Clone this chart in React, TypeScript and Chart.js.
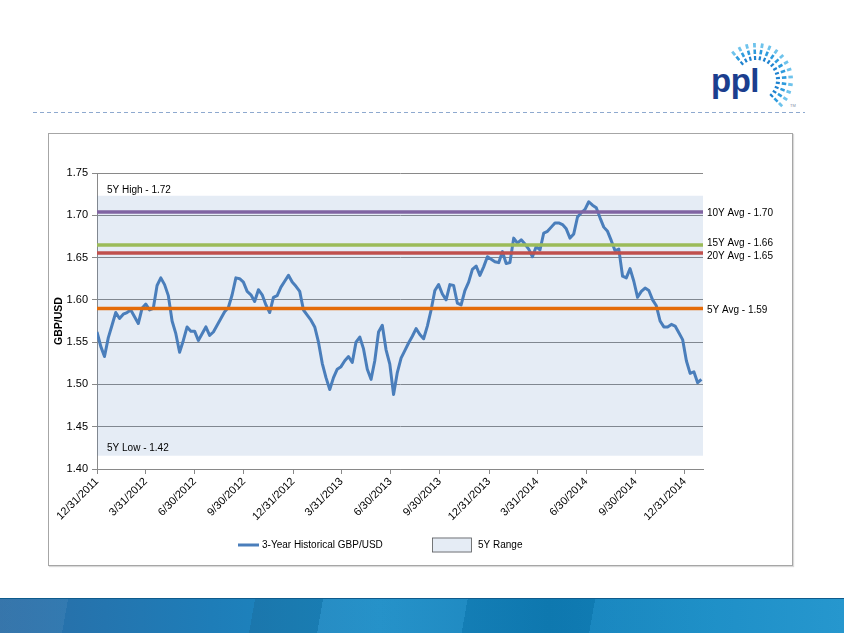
import React, { useEffect, useRef } from "react";
import { Chart, registerables } from "chart.js";

Chart.register(...registerables);

// ---------- DATA ----------
// Weekly GBP/USD readings starting 12/31/2011 (day 0), one every 7 days
const WEEK_STEP_DAYS = 7;
const gbpUsdWeekly = [
  1.562, 1.545, 1.533, 1.555, 1.570, 1.585, 1.578, 1.583, 1.585, 1.588,
  1.580, 1.572, 1.590, 1.595, 1.588, 1.590, 1.617, 1.626, 1.618, 1.605,
  1.575, 1.560, 1.538, 1.552, 1.568, 1.563, 1.563, 1.552, 1.560, 1.568,
  1.558, 1.562, 1.570, 1.578, 1.586, 1.591, 1.606, 1.626, 1.625, 1.621,
  1.610, 1.606, 1.598, 1.612, 1.606, 1.594, 1.585, 1.603, 1.605, 1.615,
  1.622, 1.629, 1.621, 1.616, 1.610, 1.588, 1.582, 1.576, 1.568, 1.550,
  1.525, 1.508, 1.494, 1.508, 1.518, 1.521, 1.528, 1.533, 1.526, 1.550,
  1.556, 1.542, 1.518, 1.506, 1.528, 1.562, 1.570, 1.541, 1.524, 1.488,
  1.514, 1.531, 1.540, 1.549, 1.557, 1.566, 1.559, 1.554, 1.569, 1.588,
  1.611, 1.618, 1.607, 1.600, 1.618, 1.617, 1.596, 1.594, 1.611, 1.621,
  1.636, 1.640, 1.629, 1.639, 1.651, 1.648, 1.645, 1.644, 1.657, 1.643,
  1.644, 1.673, 1.667, 1.671, 1.666, 1.660, 1.651, 1.663, 1.659, 1.679,
  1.681, 1.686, 1.691, 1.691, 1.689, 1.684, 1.673, 1.678, 1.698, 1.703,
  1.707, 1.716, 1.712, 1.709, 1.697, 1.686, 1.681, 1.670, 1.658, 1.660,
  1.628, 1.626, 1.637, 1.622, 1.603, 1.610, 1.614, 1.611, 1.600, 1.593,
  1.575, 1.568, 1.568, 1.571, 1.569, 1.561, 1.553, 1.528, 1.513, 1.515,
  1.502, 1.506,
];

// Quarter-end dates as day offsets from 12/31/2011
const quarterTickDays = [0, 91, 182, 274, 366, 456, 547, 639, 731, 821, 912, 1004, 1096];
const quarterTickLabels = [
  "12/31/2011", "3/31/2012", "6/30/2012", "9/30/2012", "12/31/2012",
  "3/31/2013", "6/30/2013", "9/30/2013", "12/31/2013",
  "3/31/2014", "6/30/2014", "9/30/2014", "12/31/2014",
];
const xDomainDays = [0, 1130];

const yTickValues = [1.4, 1.45, 1.5, 1.55, 1.6, 1.65, 1.7, 1.75];

// 5-year range band [low, high]
const fiveYearRange = [1.4157, 1.7231];
const fiveYearRangeLabels = ["5Y Low - 1.42", "5Y High - 1.72"];

// Long-run averages
const avgValues = [1.7038, 1.6648, 1.6553, 1.5897];
const avgLabels = ["10Y Avg - 1.70", "15Y Avg - 1.66", "20Y Avg - 1.65", "5Y Avg - 1.59"];

const seriesLabel = "3-Year Historical GBP/USD";
const rangeLabel = "5Y Range";

// ---------- STYLE ----------
const FONT = "'Liberation Sans', Arial, sans-serif";
const avgColors = ["#8064A2", "#9BBB59", "#C0504D", "#E46C0A"];
const avgLabelOffsets = [1.5, -1.5, 3.5, 1.5];
const BLUE = "#4A7EBB";
const BAND = "rgba(79,129,189,0.15)";
const BAND_SOLID = "#E5ECF5";
const GRID = "#898989";

const annotationPlugin = {
  id: "annotations",
  afterDatasetsDraw(chart: any) {
    const { ctx, chartArea, scales } = chart;
    const y = scales.y;
    ctx.save();
    ctx.font = `10px ${FONT}`;
    ctx.fillStyle = "#000";
    ctx.textBaseline = "middle";
    ctx.textAlign = "left";
    avgValues.forEach((v, i) => {
      ctx.fillText(avgLabels[i], chartArea.right + 4, y.getPixelForValue(v) + avgLabelOffsets[i]);
    });
    const hiY = y.getPixelForValue(fiveYearRange[1]);
    const loY = y.getPixelForValue(fiveYearRange[0]);
    ctx.fillText(fiveYearRangeLabels[1], chartArea.left + 10, hiY - 5);
    ctx.fillText(fiveYearRangeLabels[0], chartArea.left + 10, loY - 7);
    ctx.restore();
  },
};

const legendPlugin = {
  id: "customLegend",
  afterDraw(chart: any) {
    const { ctx, chartArea } = chart;
    const cy = 412;
    const x0 = chartArea.left + 141;
    ctx.save();
    ctx.font = `10px ${FONT}`;
    ctx.textBaseline = "middle";
    ctx.textAlign = "left";
    // line sample
    ctx.strokeStyle = BLUE;
    ctx.lineWidth = 3;
    ctx.beginPath();
    ctx.moveTo(x0, cy);
    ctx.lineTo(x0 + 21, cy);
    ctx.stroke();
    ctx.fillStyle = "#000";
    ctx.fillText(seriesLabel, x0 + 24, cy);
    // box sample
    const bx = x0 + 194;
    ctx.fillStyle = BAND_SOLID;
    ctx.fillRect(bx, cy - 7.5, 40, 15);
    ctx.strokeStyle = "#595959";
    ctx.lineWidth = 0.8;
    ctx.strokeRect(bx + 0.5, cy - 7, 39, 14);
    ctx.fillStyle = "#000";
    ctx.fillText(rangeLabel, bx + 46, cy);
    ctx.restore();
  },
};

function Logo() {
  const cx = 756;
  const cy = 80;
  const rays: JSX.Element[] = [];
  const n = 15;
  for (let k = 0; k < n; k++) {
    const a = ((-130 + (175 * k) / (n - 1)) * Math.PI) / 180;
    const segs = [
      [20, 24, 2.2, "#1E82CF"],
      [26, 30.5, 2.6, "#2E9BDD"],
      [32.5, 37, 2.8, "#6EC3EC"],
    ];
    segs.forEach((s, j) => {
      const [r1, r2, w, c] = s as [number, number, number, string];
      rays.push(
        <line
          key={`${k}-${j}`}
          x1={cx + r1 * Math.cos(a)}
          y1={cy + r1 * Math.sin(a)}
          x2={cx + r2 * Math.cos(a)}
          y2={cy + r2 * Math.sin(a)}
          stroke={c}
          strokeWidth={w}
        />
      );
    });
  }
  return (
    <svg width={844} height={130} style={{ position: "absolute", left: 0, top: 0 }}>
      {rays}
      <text
        x={711}
        y={92}
        fontFamily="'Liberation Sans', Arial, sans-serif"
        fontWeight={700}
        fontSize={33}
        fill="#1B3E8E"
        letterSpacing={-0.5}
      >
        ppl
      </text>
      <text x={790} y={107} fontFamily="Arial, sans-serif" fontSize={4} fill="#7f8fa6">
        TM
      </text>
      <line x1={33} y1={112.5} x2={805} y2={112.5} stroke="#8EA9CF" strokeWidth={1} strokeDasharray="4 3" />
    </svg>
  );
}

export default function App() {
  const canvasRef = useRef<HTMLCanvasElement | null>(null);

  useEffect(() => {
    if (!canvasRef.current) return;
    const seriesPoints = gbpUsdWeekly.map((v, i) => ({ x: i * WEEK_STEP_DAYS, y: v }));
    const hLine = (v: number) => [
      { x: xDomainDays[0], y: v },
      { x: xDomainDays[1], y: v },
    ];
    const chart = new Chart(canvasRef.current, {
      type: "line",
      data: {
        datasets: [
          ...avgValues.map((v, i) => ({
            label: avgLabels[i],
            data: hLine(v),
            borderColor: avgColors[i],
            borderWidth: 3.5,
            pointRadius: 0,
            fill: false,
            order: 1,
          })),
          {
            label: seriesLabel,
            data: seriesPoints,
            borderColor: BLUE,
            borderWidth: 3,
            pointRadius: 0,
            fill: false,
            tension: 0,
            borderJoinStyle: "round" as const,
            order: 2,
          },
          {
            label: rangeLabel,
            data: hLine(fiveYearRange[1]),
            borderWidth: 0,
            borderColor: "rgba(0,0,0,0)",
            backgroundColor: BAND,
            pointRadius: 0,
            fill: { value: fiveYearRange[0] },
            order: 5,
          },
        ],
      },
      options: {
        animation: false,
        responsive: false,
        events: [],
        layout: { padding: { left: 0, top: 40, right: 90, bottom: 0 } },
        plugins: {
          legend: { display: false },
          tooltip: { enabled: false },
        },
        scales: {
          x: {
            type: "linear",
            min: xDomainDays[0],
            max: xDomainDays[1],
            afterBuildTicks: (s: any) => {
              s.ticks = quarterTickDays.map((v) => ({ value: v }));
            },
            afterFit: (s: any) => {
              s.height = 97;
            },
            ticks: {
              autoSkip: false,
              maxRotation: 45,
              minRotation: 45,
              padding: 1,
              color: "#000",
              font: { family: FONT, size: 11 },
              callback: (v: any) => quarterTickLabels[quarterTickDays.indexOf(Number(v))] ?? "",
            },
            grid: { drawOnChartArea: false, drawTicks: true, tickLength: 5, color: GRID },
            border: { color: GRID },
          },
          y: {
            min: 1.4,
            max: 1.75,
            afterBuildTicks: (s: any) => {
              s.ticks = yTickValues.map((v) => ({ value: v }));
            },
            afterFit: (s: any) => {
              s.width = 49;
            },
            ticks: {
              padding: 4,
              color: "#000",
              font: { family: FONT, size: 11 },
              callback: (v: any) => Number(v).toFixed(2),
            },
            grid: { color: GRID, tickLength: 5 },
            border: { color: GRID },
            title: {
              display: true,
              text: "GBP/USD",
              color: "#000",
              font: { family: FONT, size: 10.5, weight: "bold" },
              padding: { top: 5, bottom: 0 },
            },
          },
        },
      },
      plugins: [annotationPlugin, legendPlugin],
    } as any);
    return () => chart.destroy();
  }, []);

  return (
    <div
      style={{
        position: "absolute",
        left: 0,
        top: 0,
        width: 844,
        height: 633,
        background: "#fff",
        overflow: "hidden",
      }}
    >
      <Logo />
      <div
        style={{
          position: "absolute",
          left: 48,
          top: 133,
          width: 745,
          height: 433,
          boxSizing: "border-box",
          border: "1px solid #A6A6A6",
          boxShadow: "1px 1px 1px rgba(0,0,0,0.15)",
        }}
      />
      <canvas
        ref={canvasRef}
        width={745}
        height={433}
        style={{ position: "absolute", left: 48, top: 133, width: 745, height: 433 }}
      />
      <div
        style={{
          position: "absolute",
          left: 0,
          top: 598,
          width: 844,
          height: 35,
          borderTop: "1px solid #0E5B8C",
          background:
            "linear-gradient(100deg, rgba(255,255,255,0.06) 0 8%, rgba(0,0,0,0) 8% 30%, rgba(0,0,0,0.08) 30% 38%, rgba(255,255,255,0.05) 38% 55%, rgba(0,0,0,0.06) 55% 70%, rgba(255,255,255,0.04) 70% 100%), linear-gradient(90deg, #2A6DA6 0%, #1E7DB8 25%, #1A8CC6 45%, #0F7FBA 65%, #168CC6 85%, #1D93CC 100%)",
        }}
      />
    </div>
  );
}
